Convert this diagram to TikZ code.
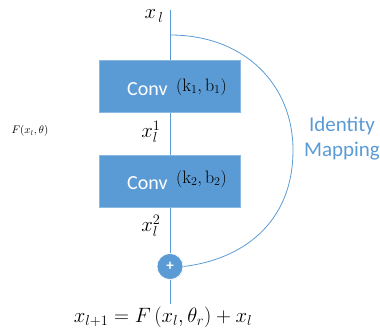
\documentclass[tikz,border=0pt]{standalone}
\usepackage{fontspec}
\newfontfamily\calib{Carlito}
\usetikzlibrary{shadows}
\definecolor{obl}{RGB}{91,155,213}
\begin{document}
\begin{tikzpicture}[x=1pt,y=-1pt,
  conv/.style={draw=obl!70!white,fill=obl,line width=0.8pt,minimum width=141pt,minimum height=52pt,inner sep=0pt},
  wire/.style={draw=obl,line width=0.8pt},
  lbl/.style={inner sep=0pt,font=\fontsize{20}{22}\selectfont}]
\useasboundingbox (0,0) rectangle (380,334);
\coordinate (top) at (170,10);
\coordinate (split) at (170,35);
\coordinate (bot) at (170,304);
\node[conv] (c1) at (169.5,86.5) {};
\node[conv] (c2) at (169.5,181.5) {};
\node[circle,fill=obl,draw=white,line width=0.6pt,minimum size=26pt,inner sep=0pt,drop shadow={opacity=0.25,shadow xshift=0.5pt,shadow yshift=-0.5pt}] (add) at (170,266.5) {};
\draw[wire] (top) -- (c1.north -| top);
\draw[wire] (c1.south -| top) -- (c2.north -| top);
\draw[wire] (c2.south -| top) -- (add.north);
\draw[wire] (add.south) -- (bot);
\draw[wire] (split) .. controls (245,35) and (293,85) .. (293,150) .. controls (293,225) and (240,260) .. (add.east);
\node[circle,fill=obl,draw=white,line width=0.6pt,minimum size=26pt,inner sep=0pt] at (add) {};
\node[text=white,font=\calib\fontsize{15}{15}\selectfont\bfseries] (plus) at (add) {+};
\node[text=white,font=\calib\fontsize{20}{22}\selectfont,anchor=west,inner sep=0pt] (t1) at (127,89) {Conv};
\node[font=\fontsize{18}{20}\selectfont,anchor=west,inner sep=0pt] (p1) at (176,87) {$(\mathrm{k}_1,\mathrm{b}_1)$};
\node[text=white,font=\calib\fontsize{20}{22}\selectfont,anchor=west,inner sep=0pt] (t2) at (127,183) {Conv};
\node[font=\fontsize{18}{20}\selectfont,anchor=west,inner sep=0pt] (p2) at (176,179) {$(\mathrm{k}_2,\mathrm{b}_2)$};
\node[lbl] (xl) at (154,16) {$x_{\,l}$};
\node[lbl] (x1) at (151,132) {$x_l^1$};
\node[lbl] (x2) at (151,226) {$x_l^2$};
\node[inner sep=0pt,font=\fontsize{10.5}{12}\selectfont] (F) at (30,131) {$F(x_l,\theta)$};
\node[text=obl,font=\calib\fontsize{21}{25}\selectfont,align=center] (id) at (342,139) {Identity\\Mapping};
\node[inner sep=0pt,font=\fontsize{21}{24}\selectfont] (eq) at (163,317) {$x_{l+1}=F\,(x_l,\theta_r)+x_l$};
\end{tikzpicture}
\end{document}
